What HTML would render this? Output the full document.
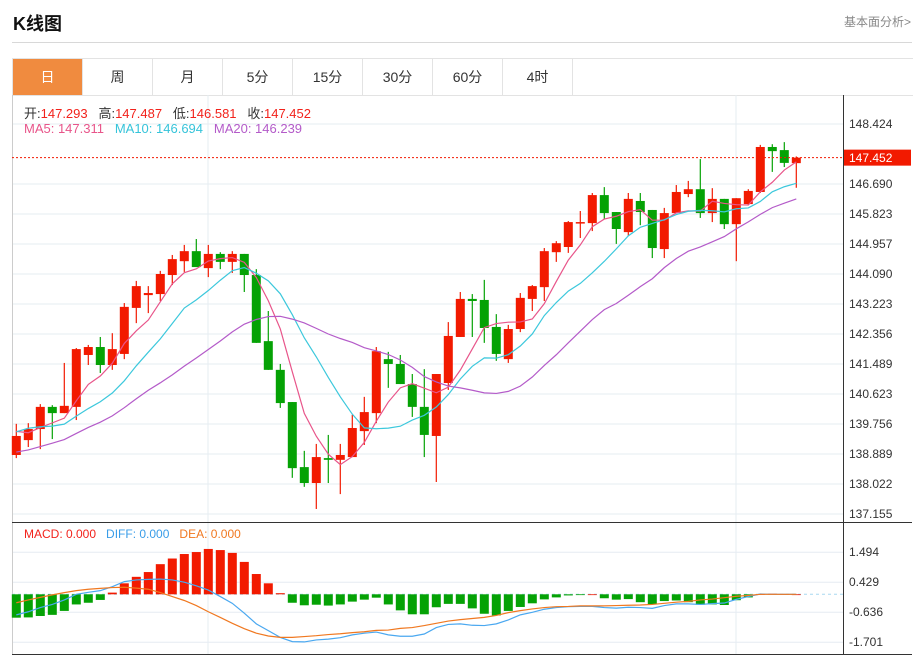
<!DOCTYPE html>
<html><head><meta charset="utf-8"><style>
body{margin:0;background:#fff;font-family:"Liberation Sans","Noto Sans CJK SC",sans-serif;width:921px;height:657px;overflow:hidden;position:relative}
.abs{position:absolute}
.tab{position:absolute;top:59px;height:36px;width:70px;line-height:36px;text-align:center;font-size:14px;color:#333;border-right:1px solid #e3e3e3;box-sizing:border-box}
</style></head><body>
<div class="abs" style="left:13px;top:10px;font-size:18px;font-weight:bold;color:#111">K线图</div>
<div class="abs" style="right:10px;top:13px;font-size:12px;color:#888">基本面分析&gt;</div>
<div class="abs" style="left:12px;top:42px;width:900px;height:1px;background:#d8d8d8"></div>
<div class="abs" style="left:12px;top:58px;width:900px;height:36px;border-top:1px solid #e3e3e3;border-bottom:1px solid #e3e3e3;border-left:1px solid #e3e3e3"></div>
<div class="tab" style="left:13px;background:#f08b3f;color:#fff">日</div>
<div class="tab" style="left:83px">周</div>
<div class="tab" style="left:153px">月</div>
<div class="tab" style="left:223px">5分</div>
<div class="tab" style="left:293px">15分</div>
<div class="tab" style="left:363px">30分</div>
<div class="tab" style="left:433px">60分</div>
<div class="tab" style="left:503px">4时</div>
<svg id="chart" class="abs" style="left:0;top:0" width="921" height="657"></svg>
<div class="abs" style="left:24px;top:103px;font-size:13px;color:#333;white-space:pre">开:<span style="color:#f2221b">147.293</span>   高:<span style="color:#f2221b">147.487</span>   低:<span style="color:#f2221b">146.581</span>   收:<span style="color:#f2221b">147.452</span></div>
<div class="abs" style="left:24px;top:121px;font-size:13px;white-space:pre"><span style="color:#e8558a">MA5: 147.311</span>   <span style="color:#36c4da">MA10: 146.694</span>   <span style="color:#b45bc9">MA20: 146.239</span></div>
<div class="abs" style="left:24px;top:527px;font-size:12px;white-space:pre"><span style="color:#f2221b">MACD: 0.000</span>   <span style="color:#3a9de8">DIFF: 0.000</span>   <span style="color:#f07820">DEA: 0.000</span></div>
<script>
const opens=[138.86,139.29,139.61,140.25,140.07,140.25,141.75,141.98,141.46,141.78,143.11,143.48,143.51,144.06,144.46,144.75,144.26,144.67,144.44,144.67,144.06,142.15,141.32,140.39,138.51,138.05,138.77,138.72,138.80,139.55,140.07,141.63,141.49,140.91,140.25,139.41,140.94,142.27,143.37,143.34,142.56,141.63,142.50,143.37,143.71,144.72,144.87,145.56,145.56,146.37,145.88,145.30,146.20,145.94,144.81,145.85,146.40,146.54,145.85,146.26,145.53,146.11,146.46,147.76,147.67,147.293];
const highs=[139.76,139.78,140.33,140.30,141.52,141.95,142.04,142.27,142.38,143.25,143.89,143.74,144.18,144.64,144.93,145.10,144.93,144.72,144.75,144.67,144.23,143.02,141.49,140.39,138.98,139.18,139.44,139.18,140.02,140.54,141.98,141.84,141.75,141.20,141.34,141.20,142.70,143.57,143.51,143.92,142.93,142.62,143.54,143.77,144.84,145.04,145.62,145.91,146.43,146.60,145.88,146.43,146.43,145.94,146.00,146.66,146.78,147.41,146.57,146.26,146.28,146.54,147.82,147.84,147.90,147.487];
const lows=[138.77,139.09,139.03,139.32,140.07,139.87,141.46,141.23,141.32,141.63,142.67,142.96,143.31,143.77,144.15,144.29,144.00,144.23,144.12,143.57,142.10,141.32,140.22,138.20,137.94,137.30,138.05,137.73,138.80,139.15,139.78,140.80,140.91,139.96,138.80,138.08,140.74,142.27,142.27,142.10,141.58,141.52,142.41,143.02,143.31,144.44,144.70,145.13,145.33,145.68,144.96,145.19,145.50,144.55,144.55,145.85,146.31,145.71,145.59,145.39,144.46,146.08,146.43,147.04,147.18,146.581];
const closes=[139.41,139.61,140.25,140.07,140.28,141.92,141.98,141.46,141.92,143.14,143.74,143.54,144.09,144.52,144.75,144.29,144.67,144.44,144.67,144.06,142.10,141.32,140.36,138.48,138.05,138.80,138.72,138.86,139.64,140.10,141.86,141.49,140.91,140.25,139.44,141.20,142.30,143.37,143.31,142.53,141.78,142.50,143.40,143.74,144.75,144.98,145.59,145.59,146.37,145.85,145.39,146.26,145.88,144.84,145.85,146.46,146.54,145.85,146.26,145.53,146.28,146.49,147.76,147.64,147.30,147.452];
const priorCloses=[138.4,138.3,138.1,138.2,138.4,138.5,138.4,138.3,138.4,138.6,138.6,139.8,139.9,139.7,139.6,139.8,139.5,139.4,139.6];
const macdBars=[-0.83,-0.82,-0.77,-0.73,-0.59,-0.36,-0.30,-0.20,0.06,0.39,0.62,0.79,1.07,1.27,1.43,1.50,1.61,1.57,1.47,1.15,0.72,0.39,0.04,-0.30,-0.39,-0.37,-0.40,-0.36,-0.26,-0.19,-0.12,-0.36,-0.57,-0.71,-0.71,-0.46,-0.34,-0.34,-0.50,-0.69,-0.75,-0.59,-0.45,-0.32,-0.18,-0.11,-0.04,-0.02,0,-0.14,-0.19,-0.17,-0.28,-0.36,-0.24,-0.22,-0.28,-0.37,-0.36,-0.38,-0.21,-0.11,0.01,0.02,0.01,0];
const diffVals=[-0.73,-0.62,-0.47,-0.36,-0.20,0,0.07,0.13,0.27,0.45,0.51,0.53,0.54,0.51,0.43,0.30,0.15,-0.08,-0.32,-0.67,-1.05,-1.29,-1.53,-1.68,-1.69,-1.62,-1.59,-1.54,-1.44,-1.38,-1.34,-1.44,-1.49,-1.49,-1.41,-1.18,-1.07,-1.05,-1.10,-1.11,-1.05,-0.91,-0.73,-0.64,-0.53,-0.47,-0.44,-0.43,-0.43,-0.47,-0.49,-0.46,-0.47,-0.50,-0.40,-0.34,-0.34,-0.36,-0.33,-0.31,-0.18,-0.08,0.01,0,0,0];
const deaVals=[-0.30,-0.20,-0.11,-0.02,0.06,0.13,0.18,0.21,0.24,0.25,0.22,0.18,0.06,-0.08,-0.22,-0.40,-0.62,-0.82,-1.03,-1.22,-1.38,-1.48,-1.53,-1.53,-1.50,-1.47,-1.43,-1.40,-1.36,-1.33,-1.28,-1.27,-1.21,-1.18,-1.11,-1.03,-0.95,-0.90,-0.86,-0.82,-0.75,-0.65,-0.58,-0.52,-0.47,-0.44,-0.43,-0.41,-0.41,-0.41,-0.40,-0.39,-0.38,-0.36,-0.32,-0.28,-0.25,-0.20,-0.17,-0.12,-0.07,-0.04,0,0,0,0];
const priceTicks=["148.424","147.557","146.690","145.823","144.957","144.090","143.223","142.356","141.489","140.623","139.756","138.889","138.022","137.155"];
const macdTicks=["1.494","0.429","-0.636","-1.701"];

const svg=document.getElementById('chart');const NS='http://www.w3.org/2000/svg';
function mk(t,a,p){const e=document.createElementNS(NS,t);for(const k in a)e.setAttribute(k,a[k]);(p||svg).appendChild(e);return e;}
const X=i=>16.3+12*i;
const Y=v=>124+(148.424-v)*390/(148.424-137.155);
const MY=v=>594.3-v*28.17;
// grid
priceTicks.forEach((t,k)=>{const y=Y(parseFloat(t));
 if(k!==1){const g=mk('line',{x1:12,x2:843,y1:y,y2:y,stroke:'#e6ecf2','stroke-width':1});}
 if(k!==1){const tx=mk('text',{x:849,y:y+4,'font-size':12,fill:'#333','font-family':'Liberation Sans'});tx.textContent=t;}
});
macdTicks.forEach(t=>{const y=MY(parseFloat(t));
 const g=mk('line',{x1:12,x2:843,y1:y,y2:y,stroke:'#e6ecf2'});
 const tx=mk('text',{x:849,y:y+4,'font-size':12,fill:'#333','font-family':'Liberation Sans'});tx.textContent=t;});
[208,736].forEach(x=>{const g=mk('line',{x1:x,x2:x,y1:95,y2:654,stroke:'#e6ecf2'});});
let b=mk('line',{x1:12.5,x2:12.5,y1:95,y2:655,stroke:'#ccc'});
b=mk('line',{x1:843.5,x2:843.5,y1:95,y2:655,stroke:'#333'});
b=mk('line',{x1:12,x2:912,y1:522.5,y2:522.5,stroke:'#333'});
b=mk('line',{x1:12,x2:912,y1:654.5,y2:654.5,stroke:'#333'});
b=mk('line',{x1:12,x2:843,y1:MY(0),y2:MY(0),stroke:'#a8d8f0','stroke-dasharray':'3,3'});
// candles
const RED='#f21a00',GREEN='#05a205';
closes.forEach((c,i)=>{const o=opens[i],up=c>=o,col=up?RED:GREEN,x=X(i);
 const g=mk('g',{});
 mk('line',{x1:x,x2:x,y1:Y(highs[i]),y2:Y(lows[i]),stroke:col,'stroke-width':1.2},g);
 const t=Y(Math.max(o,c)),bt=Y(Math.min(o,c));
 mk('rect',{x:x-4.5,y:t,width:9,height:Math.max(1.5,bt-t),fill:col},g);});
// MAs
const all=priorCloses.concat(closes);
function ma(n){return closes.map((_,i)=>{const j=i+priorCloses.length;let s=0;for(let k=j-n+1;k<=j;k++)s+=all[k];return s/n;});}
[[5,'#e8558a','ma5-line'],[10,'#3cc8dc','ma10-line'],[20,'#b45bc9','ma20-line']].forEach(([n,col,name])=>{
 const m=ma(n);const p=mk('polyline',{points:m.map((v,i)=>X(i)+','+Y(v)).join(' '),fill:'none',stroke:col,'stroke-width':1.2});
 });
// last price line and tag
const lastY=Y(closes[closes.length-1]);
b=mk('line',{x1:12,x2:843,y1:lastY,y2:lastY,stroke:'#f21a00','stroke-dasharray':'2,2'});
b=mk('rect',{x:844,y:lastY-8,width:67,height:16,fill:'#f21a00'});
b=mk('text',{x:849,y:lastY+4.5,'font-size':12,fill:'#fff','font-family':'Liberation Sans'});b.textContent=closes[closes.length-1].toFixed(3);
// MACD bars
macdBars.forEach((v,i)=>{const y0=MY(0),y1=MY(v);
 const r=mk('rect',{x:X(i)-4.5,y:Math.min(y0,y1),width:9,height:Math.max(0.8,Math.abs(y1-y0)),fill:v>=0?RED:GREEN});
 });
[[diffVals,'#4aa8f0','diff-line'],[deaVals,'#f07820','dea-line']].forEach(([arr,col,name])=>{
 const p=mk('polyline',{points:arr.map((v,i)=>X(i)+','+MY(v)).join(' '),fill:'none',stroke:col,'stroke-width':1.2});
 });
</script>
</body></html>
